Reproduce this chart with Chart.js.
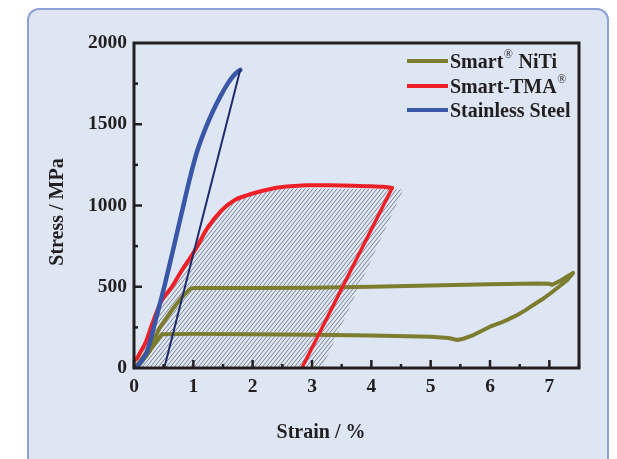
<!DOCTYPE html>
<html>
<head>
<meta charset="utf-8">
<script src="https://cdn.jsdelivr.net/npm/chart.js@4/dist/chart.umd.min.js"></script>
<style>
  body { margin: 0; background: #fff; }
  #box { position: absolute; left: 27px; top: 8px; width: 578px; height: 470px; background: #dfe6f3; border: 2px solid #8ea1d6; border-radius: 12px; }
  #chart { position: absolute; left: 0; top: 0; }
</style>
</head>
<body>
<div id="box"></div>
<canvas id="chart" width="617" height="459"></canvas>
<script>
// data (strain %, stress MPa)
const steelLoadX = [0, 0.05, 0.12, 0.22, 0.34, 0.51, 0.67, 0.82, 0.95, 1.07, 1.2, 1.33, 1.46, 1.58, 1.68, 1.75, 1.79];
const steelLoadY = [0, 10, 40, 100, 260, 500, 745, 980, 1180, 1340, 1470, 1580, 1675, 1750, 1800, 1825, 1834];
const steelUnloadX = [1.79, 0.51];
const steelUnloadY = [1834, 0];

const tmaLoadX = [0, 0.05, 0.1, 0.2, 0.3, 0.47, 0.64, 0.81, 0.95, 1.06, 1.25, 1.48, 1.7, 1.9, 2.09, 2.3, 2.5, 2.7, 2.92, 3.3, 3.7, 4.0, 4.2, 4.35];
const tmaLoadY = [45, 60, 92, 160, 265, 418, 500, 603, 680, 745, 868, 972, 1034, 1062, 1083, 1102, 1114, 1120, 1124, 1124, 1122, 1118, 1115, 1108];
const tmaUnloadX = [4.35, 2.83];
const tmaUnloadY = [1108, 0];

const nitiX = [0, 0.1, 0.27, 0.44, 0.64, 0.81, 0.94, 1.0, 2, 3, 4, 5, 6, 6.8, 7.0, 7.05, 7.2, 7.4, 7.3, 7.15, 7.02, 6.88, 6.73, 6.6, 6.46, 6.3, 6.17, 6.0, 5.89, 5.72, 5.55, 5.45, 5.3, 5, 4, 3, 2, 1, 0.47, 0.35, 0.2, 0.08, 0];
const nitiY = [0, 40, 129, 252, 357, 437, 485, 492, 492, 494, 500, 507, 515, 520, 518, 512, 540, 585, 540, 497, 460, 423, 388, 356, 326, 298, 277, 254, 234, 203, 180, 172, 185, 192, 200, 205, 208, 210, 208, 150, 70, 15, 0];

const hatchX = [0.08, 0.2, 0.47, 0.81, 1.06, 1.25, 1.48, 1.7, 2.09, 2.43, 2.7, 4.54, 3.17];
const hatchY = [0, 150, 418, 603, 745, 868, 972, 1034, 1083, 1100, 1105, 1100, 0];

const xTicks = [0, 1, 2, 3, 4, 5, 6, 7];
const yTicks = [0, 500, 1000, 1500, 2000];

const legendNames = [['Smart', '®', ' NiTi'], ['Smart-TMA', '®', ''], ['Stainless Steel', '', '']];

const olive = '#7c7d2f';
const red = '#ee2027';
const blue = '#3a56a6';
const navy = '#1f2c6a';
const ink = '#231f20';
const font = 'bold 20px "Liberation Serif", "Times New Roman", serif';
const tickFont = { family: '"Liberation Serif", serif', size: 19.5, weight: 'bold' };

function pts(xs, ys) {
  return xs.map((x, i) => ({ x: x, y: ys[i] }));
}

// hatch pattern
function hatchPattern(ctx) {
  const c = document.createElement('canvas');
  c.width = 4; c.height = 5;
  const g = c.getContext('2d');
  g.strokeStyle = 'rgba(80,84,98,0.8)';
  g.lineWidth = 0.85;
  [-4, 0, 4].forEach(o => {
    g.beginPath();
    g.moveTo(o, 5);
    g.lineTo(o + 4, 0);
    g.stroke();
  });
  return ctx.createPattern(c, 'repeat');
}

// hatch area, frame, inward ticks, titles, legend
const decor = {
  id: 'decor',
  beforeDatasetsDraw(chart) {
    const ctx = chart.ctx;
    const sx = chart.scales.x, sy = chart.scales.y;
    ctx.save();
    ctx.beginPath();
    hatchX.forEach((x, i) => {
      const px = sx.getPixelForValue(x), py = sy.getPixelForValue(hatchY[i]);
      if (i === 0) ctx.moveTo(px, py); else ctx.lineTo(px, py);
    });
    ctx.closePath();
    ctx.fillStyle = hatchPattern(ctx);
    ctx.fill();
    ctx.restore();
  },
  afterDatasetsDraw(chart) {
    const ctx = chart.ctx;
    const a = chart.chartArea;
    const sx = chart.scales.x, sy = chart.scales.y;
    ctx.save();
    ctx.strokeStyle = ink;
    ctx.lineWidth = 2.5;
    for (let v = 0; v <= 7.5; v += 0.5) {
      const px = sx.getPixelForValue(v);
      const len = v % 1 === 0 ? 8 : 4;
      ctx.beginPath(); ctx.moveTo(px, a.bottom); ctx.lineTo(px, a.bottom - len); ctx.stroke();
    }
    for (let v = 250; v < 2000; v += 250) {
      const py = sy.getPixelForValue(v);
      const len = v % 500 === 0 ? 8 : 4;
      ctx.beginPath(); ctx.moveTo(a.left, py); ctx.lineTo(a.left + len, py); ctx.stroke();
    }
    ctx.lineWidth = 3;
    ctx.strokeRect(a.left, a.top, a.right - a.left, a.bottom - a.top);
    ctx.restore();
  },
  afterDraw(chart) {
    const ctx = chart.ctx;
    ctx.save();
    ctx.fillStyle = ink;
    ctx.font = font;
    ctx.textAlign = 'center';
    ctx.textBaseline = 'middle';
    ctx.fillText('Strain / %', 321, 433);
    ctx.translate(58, 212);
    ctx.rotate(-Math.PI / 2);
    ctx.fillText('Stress / MPa', 0, 0);
    ctx.restore();

    // legend
    const colors = [olive, red, blue];
    const rows = [61, 86, 110];
    ctx.save();
    ctx.textBaseline = 'alphabetic';
    ctx.textAlign = 'left';
    legendNames.forEach((parts, i) => {
      const y = rows[i];
      ctx.strokeStyle = colors[i];
      ctx.lineWidth = 4;
      ctx.beginPath(); ctx.moveTo(407, y); ctx.lineTo(448, y); ctx.stroke();
      ctx.fillStyle = ink;
      let x = 450;
      ctx.font = font;
      ctx.fillText(parts[0], x, y + 7);
      x += ctx.measureText(parts[0]).width;
      if (parts[1]) {
        ctx.font = '12px "Liberation Serif", serif';
        ctx.fillText(parts[1], x + 0.5, y - 3);
        x += ctx.measureText(parts[1]).width + 1;
      }
      if (parts[2]) {
        ctx.font = font;
        ctx.fillText(parts[2], x, y + 7);
      }
    });
    ctx.restore();
  }
};

const line = (data, color, width, order, tension) => ({
  data: data, borderColor: color, borderWidth: width, pointRadius: 0,
  showLine: true, fill: false, tension: tension, order: order,
  borderCapStyle: 'round', borderJoinStyle: 'round'
});

new Chart(document.getElementById('chart'), {
  type: 'scatter',
  data: {
    datasets: [
      line(pts(nitiX, nitiY), olive, 4, 5, 0),
      line(pts(tmaLoadX, tmaLoadY), red, 4, 4, 0.3),
      line(pts(tmaUnloadX, tmaUnloadY), red, 3.5, 3, 0),
      line(pts(steelLoadX, steelLoadY), blue, 4.5, 2, 0.3),
      line(pts(steelUnloadX, steelUnloadY), navy, 2, 1, 0)
    ]
  },
  options: {
    responsive: false,
    animation: false,
    layout: { padding: { left: 0, right: 38, top: 43, bottom: 0 } },
    plugins: { legend: { display: false }, tooltip: { enabled: false } },
    scales: {
      x: {
        type: 'linear', min: 0, max: 7.5,
        afterFit(s) { s.height = 91; },
        grid: { display: false, drawTicks: false },
        border: { display: false },
        afterBuildTicks(s) { s.ticks = xTicks.map(v => ({ value: v })); },
        ticks: { padding: 7, color: ink, font: tickFont, callback: v => String(v) }
      },
      y: {
        min: 0, max: 2000,
        afterFit(s) { s.width = 134; },
        grid: { display: false, drawTicks: false },
        border: { display: false },
        afterBuildTicks(s) { s.ticks = yTicks.map(v => ({ value: v })); },
        ticks: { padding: 7, color: ink, font: tickFont, callback: v => String(v) }
      }
    }
  },
  plugins: [decor]
});
</script>
</body>
</html>
